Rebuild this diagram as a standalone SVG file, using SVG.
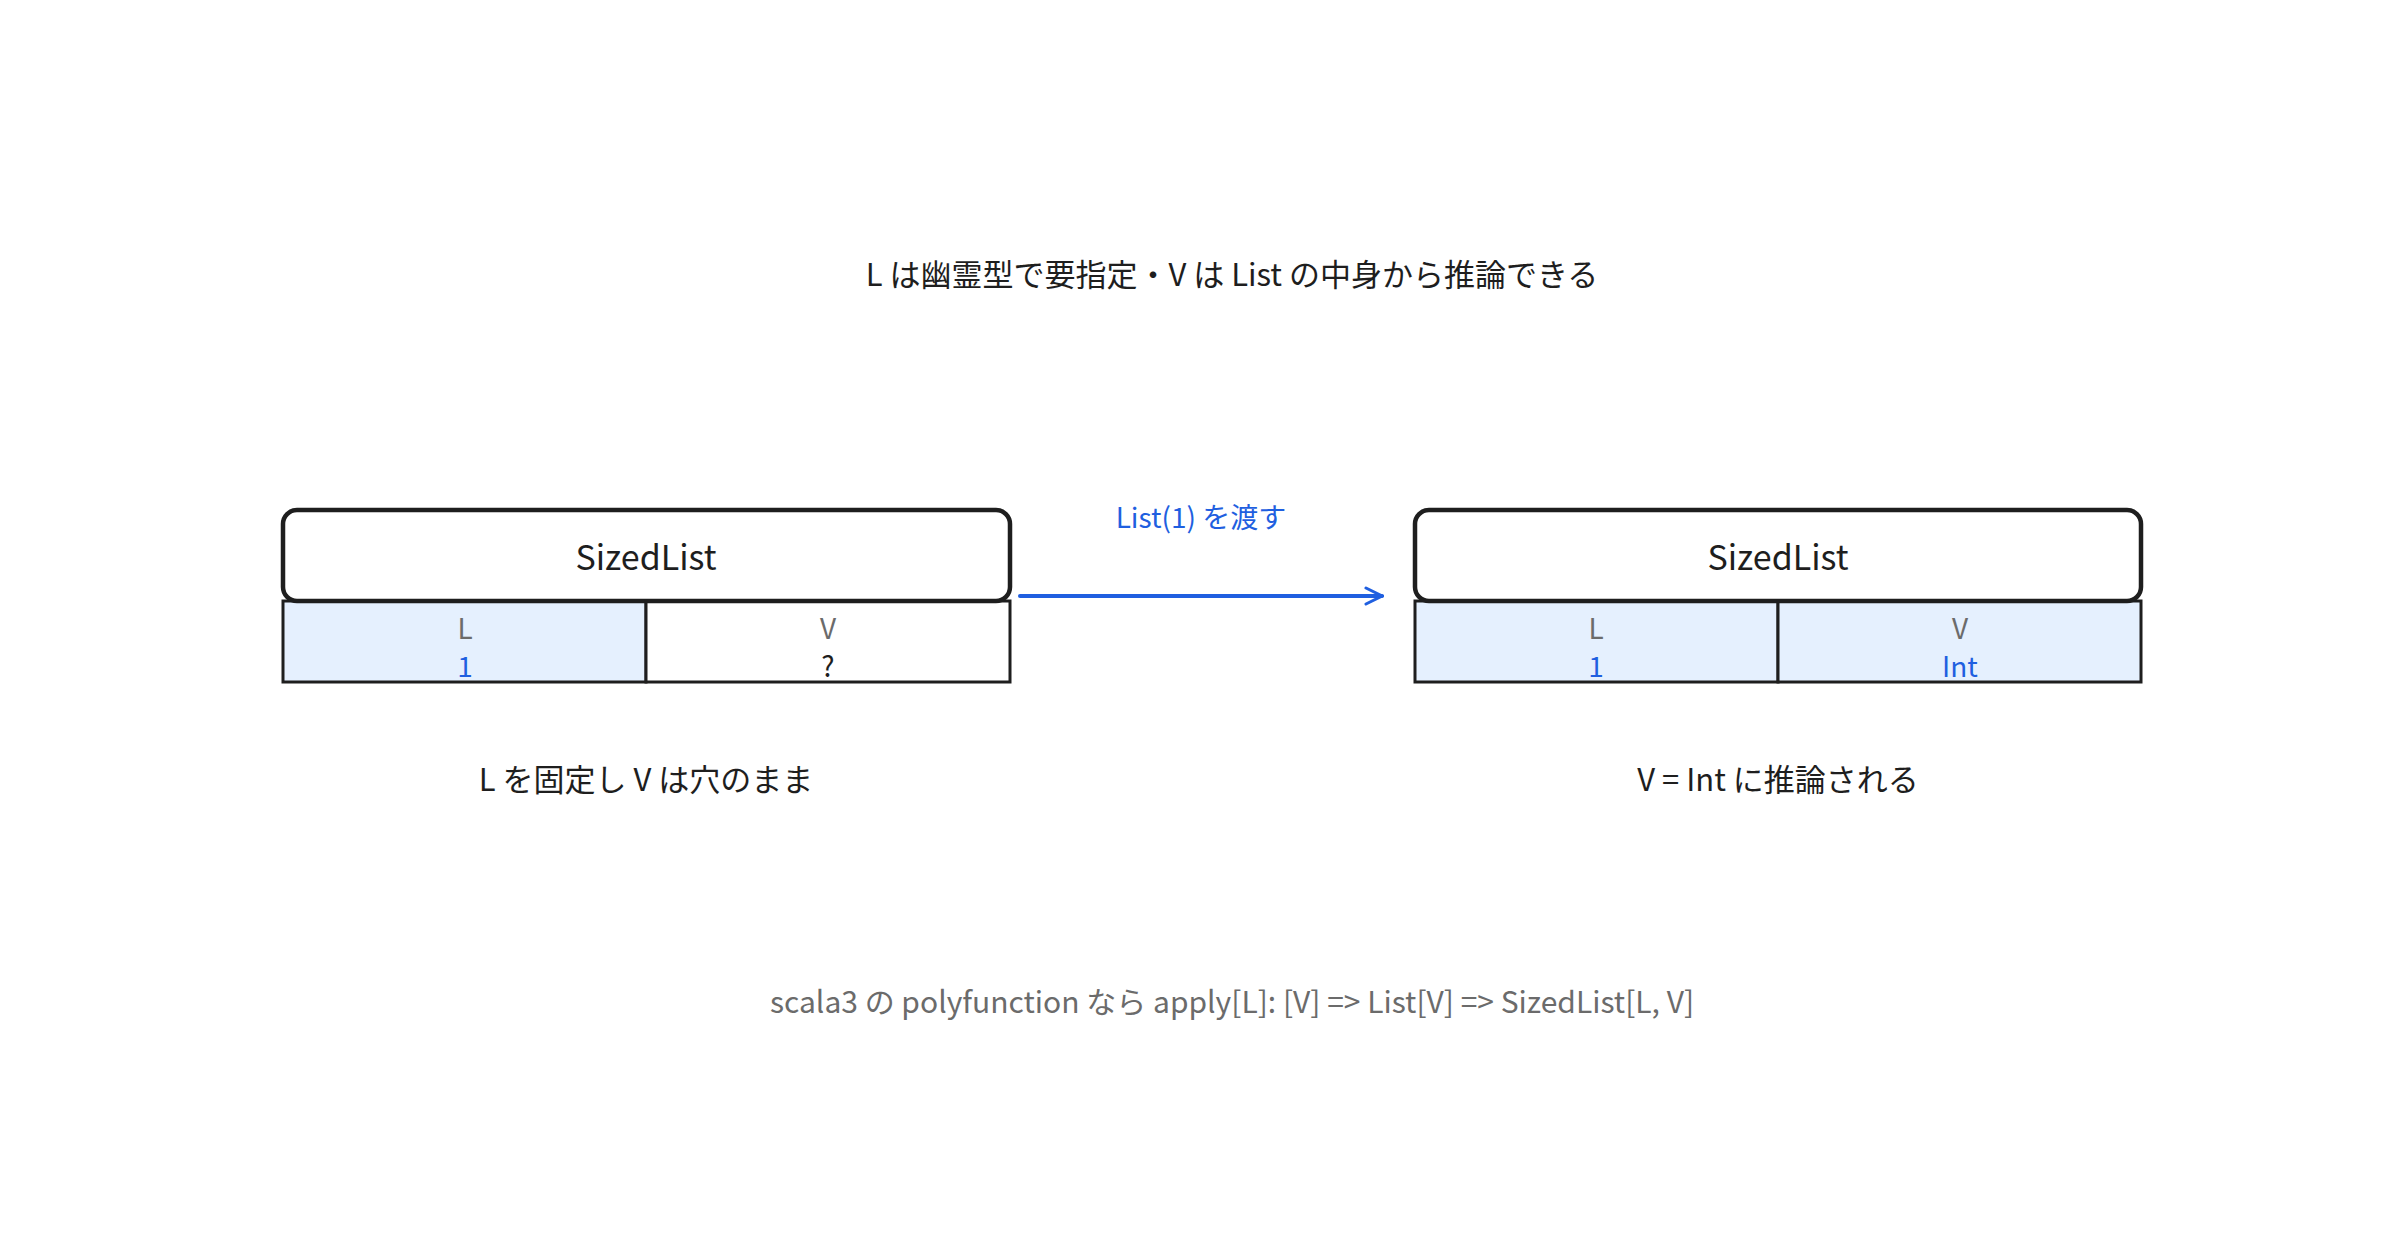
<svg xmlns="http://www.w3.org/2000/svg" width="2400" height="1260" viewBox="0 0 2400 1260">
<style>
text{font-family:"Noto Sans CJK JP","Noto Sans",sans-serif;text-anchor:middle}
.t{font-size:31px;fill:#1e1e1e}
.h{font-size:34px;fill:#1e1e1e}
.k{font-size:28px;fill:#6b6b6b}
.b{font-size:28px;fill:#1f5fe0}
.v{font-size:28px;fill:#1e1e1e}
.hd{fill:#fff;stroke:#1e1e1e;stroke-width:4.5}
.c{stroke:#1e1e1e;stroke-width:3}
.f{fill:#e5f0fe}
.w{fill:#fff}
</style>
<defs><marker id="ar" viewBox="0 0 20 20" refX="18" refY="10" markerWidth="20" markerHeight="20" markerUnits="userSpaceOnUse" orient="auto"><path d="M2 2 L18 10 L2 18" fill="none" stroke="#1f5fe0" stroke-width="3" stroke-linecap="round"/></marker></defs>
<text class="t" x="1232" y="286">L は幽霊型で要指定・V は List の中身から推論できる</text>
<g id="left">
<rect class="c f" x="283" y="601" width="363" height="81"/>
<rect class="c w" x="646" y="601" width="364" height="81"/>
<rect class="hd" x="283" y="510" width="727" height="91" rx="14"/>
<text class="h" x="646" y="570">SizedList</text>
<text class="k" x="465" y="639">L</text><text class="b" x="465" y="677">1</text>
<text class="k" x="828" y="639">V</text><text class="v" x="828" y="677">?</text>
<text class="t" x="646" y="791">L を固定し V は穴のまま</text>
</g>
<g id="right">
<rect class="c f" x="1415" y="601" width="363" height="81"/>
<rect class="c f" x="1778" y="601" width="363" height="81"/>
<rect class="hd" x="1415" y="510" width="726" height="91" rx="14"/>
<text class="h" x="1778" y="570">SizedList</text>
<text class="k" x="1596" y="639">L</text><text class="b" x="1596" y="677">1</text>
<text class="k" x="1960" y="639">V</text><text class="b" x="1960" y="677">Int</text>
<text class="t" x="1778" y="791">V = Int に推論される</text>
</g>
<g id="connectors">
<line x1="1020" y1="596" x2="1382" y2="596" stroke="#1f5fe0" stroke-width="4" stroke-linecap="round" marker-end="url(#ar)"/>
<text class="b" x="1201" y="528">List(1) を渡す</text>
</g>
<text class="k" x="1232" y="1013" style="font-size:30px">scala3 の polyfunction なら apply[L]: [V] =&gt; List[V] =&gt; SizedList[L, V]</text>
</svg>
